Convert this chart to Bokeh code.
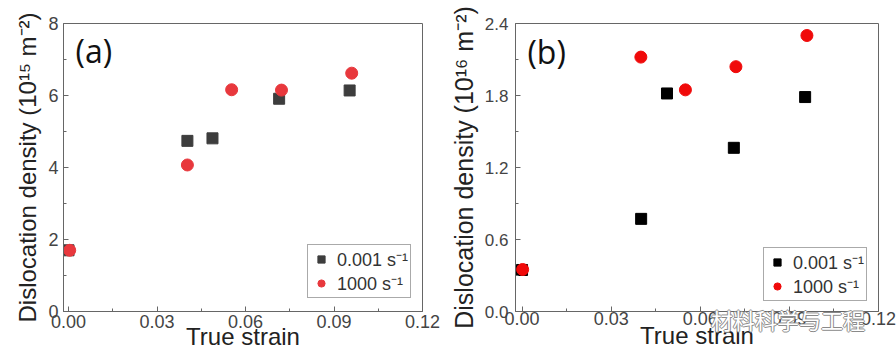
from bokeh.plotting import figure
from bokeh.layouts import row, column
from bokeh.models import Label, FixedTicker, PrintfTickFormatter, Range1d, Div
from bokeh.embed import file_html
from bokeh.resources import INLINE

# ---- data panel (a) ----
a_slow_x = [0.0, 0.0403, 0.0488, 0.0714, 0.0953]
a_slow_y = [1.70, 4.74, 4.81, 5.91, 6.14]
a_fast_x = [0.0004, 0.0403, 0.0553, 0.0722, 0.0960]
a_fast_y = [1.70, 4.07, 6.16, 6.15, 6.62]

# ---- data panel (b) ----
b_slow_x = [0.0, 0.0401, 0.0488, 0.0713, 0.0953]
b_slow_y = [0.346, 0.772, 1.817, 1.364, 1.787]
b_fast_x = [0.0002, 0.0400, 0.0550, 0.0720, 0.0959]
b_fast_y = [0.35, 2.12, 1.847, 2.04, 2.30]

x_ticks = [0.0, 0.03, 0.06, 0.09, 0.12]
a_y_ticks = [0, 2, 4, 6, 8]
b_y_ticks = [0.0, 0.6, 1.2, 1.8, 2.4]

legend_slow = "0.001 s\u207b\u00b9"
legend_fast = "1000 s\u207b\u00b9"
watermark = "\u6750\u6599\u79d1\u5b66\u4e0e\u5de5\u7a0b"

FONT = "Liberation Sans"


def style(p, yticks, yfmt):
    p.xaxis.ticker = FixedTicker(ticks=x_ticks, minor_ticks=[0.015, 0.045, 0.075, 0.105])
    minor_y = [(yticks[i] + yticks[i + 1]) / 2 for i in range(len(yticks) - 1)]
    p.yaxis.ticker = FixedTicker(ticks=yticks, minor_ticks=minor_y)
    p.xaxis.formatter = PrintfTickFormatter(format="%.2f")
    p.yaxis.formatter = PrintfTickFormatter(format=yfmt)
    for ax in (p.xaxis[0], p.yaxis[0]):
        ax.major_tick_in = 5
        ax.major_tick_out = 0
        ax.minor_tick_in = 3
        ax.minor_tick_out = 0
        ax.axis_line_color = "#666666"
        ax.major_tick_line_color = "#666666"
        ax.minor_tick_line_color = "#666666"
        ax.major_label_text_font = FONT
        ax.major_label_text_font_size = "18px"
        ax.major_label_text_color = "#444444"
        ax.axis_label_text_font = FONT
        ax.axis_label_text_font_size = "24px"
        ax.axis_label_text_font_style = "normal"
        ax.axis_label_text_color = "#222222"
    p.xgrid.visible = False
    p.ygrid.visible = False
    p.outline_line_color = "#666666"
    p.outline_line_width = 1
    p.background_fill_color = "white"
    p.border_fill_color = "white"
    p.legend.label_text_font = FONT
    p.legend.label_text_font_size = "18px"
    p.legend.label_text_color = "#333333"
    p.legend.border_line_color = "#555555"
    p.legend.border_line_width = 1
    p.legend.padding = 2
    p.legend.spacing = 0
    p.legend.glyph_width = 22
    p.legend.glyph_height = 18
    p.legend.label_height = 18
    p.legend.label_standoff = 5
    p.legend.margin = 0


# ---- panel (a) ----
pa = figure(width=446, height=359, output_backend="svg", toolbar_location=None,
            x_range=Range1d(-0.0017, 0.12), y_range=Range1d(0, 8),
            min_border_left=63, min_border_right=24, min_border_top=23, min_border_bottom=48)
pa.scatter(a_slow_x, a_slow_y, marker="square", size=11, color="#3d3d3d", legend_label=legend_slow)
pa.scatter(a_fast_x, a_fast_y, marker="circle", size=12, color="#e8383d", legend_label=legend_fast)
pa.xaxis.axis_label = "True strain"
pa.yaxis.axis_label = "Dislocation density (10\u00b9\u2075 m\u207b\u00b2)"
style(pa, a_y_ticks, "%d")
pa.xaxis.major_label_standoff = 3
pa.xaxis.axis_label_standoff = -8
pa.yaxis.major_label_standoff = 5
pa.yaxis.axis_label_standoff = 4
pa.legend.location = (244, 13)
pa.add_layout(Label(x=0.0024, y=7.25, text="(a)", text_font="Open Sans", text_font_size="32px",
                    text_color="#111111", text_baseline="alphabetic"))

# ---- panel (b) ----
pb = figure(width=450, height=359, output_backend="svg", toolbar_location=None,
            x_range=Range1d(-0.0022, 0.12), y_range=Range1d(0, 2.4),
            min_border_left=65, min_border_right=18, min_border_top=22, min_border_bottom=44)
pb.scatter(b_slow_x, b_slow_y, marker="square", size=11, color="#000000", legend_label=legend_slow)
pb.scatter(b_fast_x, b_fast_y, marker="circle", size=12, color="#f00a0a", legend_label=legend_fast)
pb.xaxis.axis_label = "True strain"
pb.yaxis.axis_label = "Dislocation density (10\u00b9\u2076 m\u207b\u00b2)"
style(pb, b_y_ticks, "%.1f")
pb.xaxis.major_label_standoff = 0
pb.xaxis.axis_label_standoff = -6
pb.yaxis.major_label_standoff = 7
pb.yaxis.axis_label_standoff = 4
pb.yaxis.major_label_text_font_size = "17px"
pb.yaxis.axis_label_text_font_size = "25px"
pb.legend.location = (248, 10)
pb.add_layout(Label(x=0.0018, y=2.17, text="(b)", text_font="Open Sans", text_font_size="32px",
                    text_color="#111111", text_baseline="alphabetic"))

wm = Div(text=watermark, styles={
    "position": "absolute", "left": "706px", "top": "300px",
    "font-family": "Noto Sans CJK SC", "font-size": "22px", "line-height": "28px",
    "color": "#ffffff", "white-space": "nowrap", "z-index": "10",
    "text-shadow": "-1px 0 #8a8a8a, 1px 0 #8a8a8a, 0 -1px #8a8a8a, 0 1px #8a8a8a",
})

layout = column(row(pa, pb), wm)
open("out.html", "w").write(file_html(layout, INLINE))
